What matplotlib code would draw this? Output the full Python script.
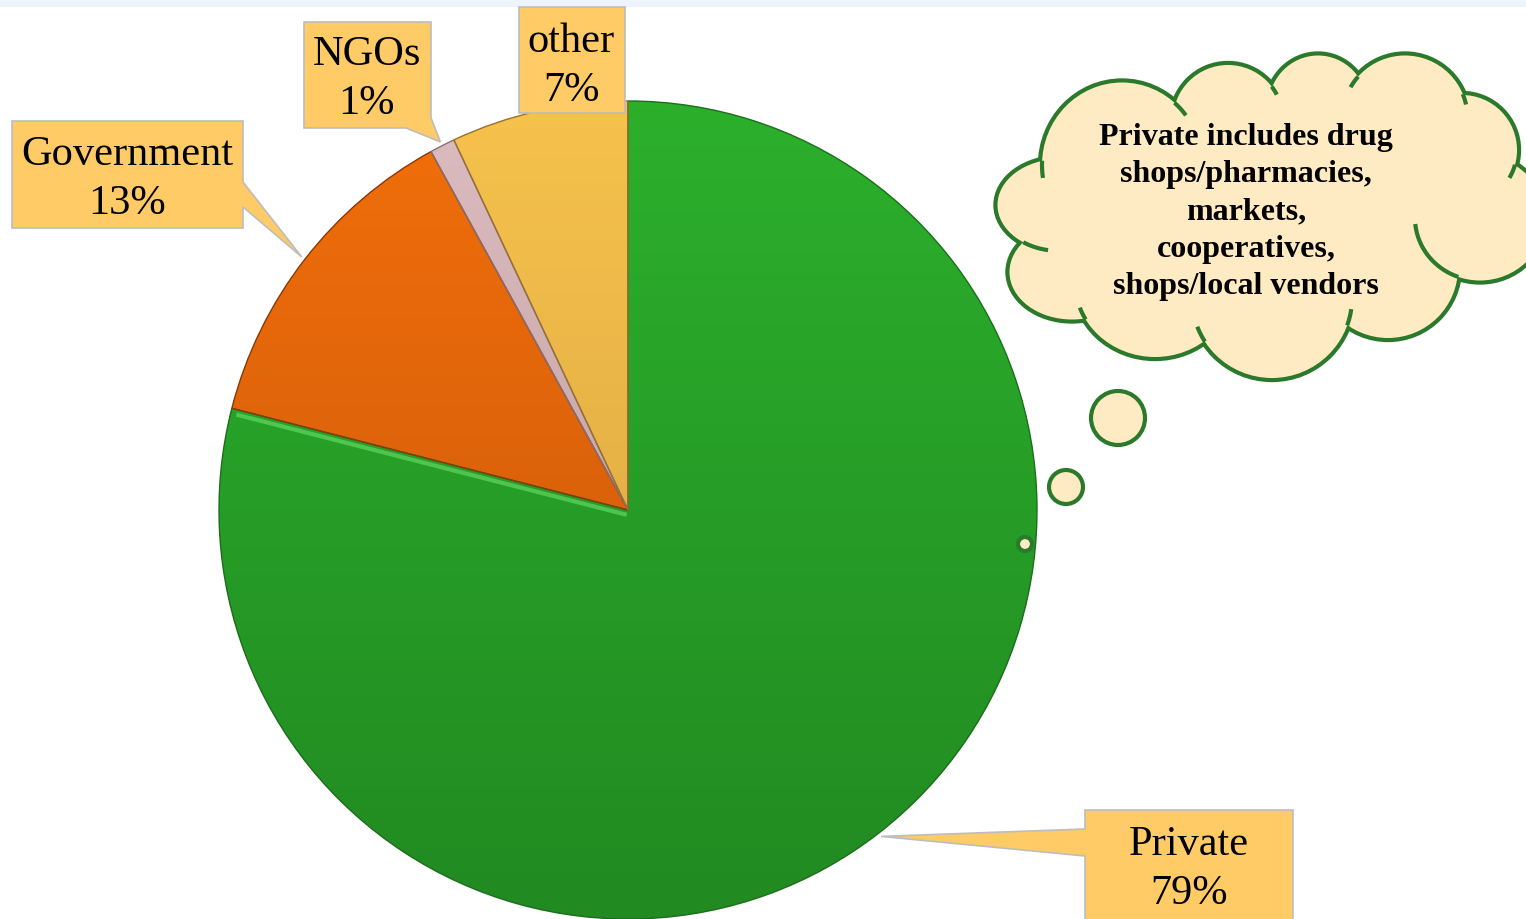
import numpy as np
import matplotlib
matplotlib.use("Agg")
import matplotlib.pyplot as plt
from matplotlib.patches import Polygon, Ellipse, Circle, Rectangle, PathPatch
from matplotlib.colors import LinearSegmentedColormap

plt.rcParams['font.family'] = ['Liberation Serif', 'DejaVu Serif']

# data
labels = ['Private', 'Government', 'NGOs', 'other']
shares = [79, 13, 1, 7]
note = ("Private includes drug\nshops/pharmacies,\nmarkets,\n"
        "cooperatives,\nshops/local vendors")

# colours (top, bottom of the gradient)
top_cols = ['#2cb02c', '#f26f0b', '#dcbcc0', '#f6c24c']
bot_cols = ['#218a21', '#c4540a', '#b89598', '#d59f40']
edge_cols = ['#1d6e1d', '#8a3a08', '#8a7075', '#9a7030']

W, H = 1526, 919


def P(x, y):
    # pixel position (from top-left) -> data coords
    return (x, H - y)


fig = plt.figure(figsize=(W / 100, H / 100), dpi=100)
ax = fig.add_axes([0, 0, 1, 1])

# light band along the top
ax.add_patch(Rectangle(P(0, 7), W, 7, color='#eef4fc', lw=0, zorder=0))

cx, cy = P(628, 510)
R = 409

wedges, _ = ax.pie(shares, colors=top_cols, startangle=90, counterclock=False,
                   center=(cx, cy), radius=R,
                   wedgeprops=dict(linewidth=0, zorder=2))

# vertical gradient inside each slice
grad = np.linspace(0, 1, 256).reshape(-1, 1)
for w, c0, c1 in zip(wedges, top_cols, bot_cols):
    cm = LinearSegmentedColormap.from_list('g', [c0, c1])
    im = ax.imshow(grad, cmap=cm, extent=[cx - R, cx + R, cy - R, cy + R],
                   aspect='auto', zorder=2.5, interpolation='bilinear')
    im.set_clip_path(w)

# light bevel along the green slice's cut edge
a = np.deg2rad(wedges[0].theta1)
nx, ny = -np.sin(a), np.cos(a)
off = 5
ax.plot([cx + off * nx, cx + (R - 6) * np.cos(a) + off * nx],
        [cy + off * ny, cy + (R - 6) * np.sin(a) + off * ny],
        color='#6be06b', lw=3, alpha=0.6, zorder=2.55, solid_capstyle='butt')

for w, ec in zip(wedges, edge_cols):
    ax.add_patch(PathPatch(w.get_path(), fill=False, ec=ec, lw=1.0,
                           zorder=2.6))

ax.set_xlim(0, W)
ax.set_ylim(0, H)
ax.set_aspect('equal')
ax.axis('off')


def tip_of(w, frac=1.0):
    ang = np.deg2rad((w.theta1 + w.theta2) / 2)
    return (w.center[0] + frac * R * np.cos(ang),
            w.center[1] + frac * R * np.sin(ang))


box_fc = '#fecb66'
box_ec = '#bdbdbd'
fs = 30.5
ls = 1.36

# Government callout
t = tip_of(wedges[1], 1.01)
pts = [P(12, 121), P(243, 121), P(243, 182), t, P(243, 207), P(243, 228),
       P(12, 228)]
ax.add_patch(Polygon(pts, closed=True, fc=box_fc, ec=box_ec, lw=1.2, zorder=4))
ax.text(*P(127, 179), f"{labels[1]}\n{shares[1]}%", ha='center', va='center',
        fontsize=fs, linespacing=ls, zorder=5)

# NGOs callout
t = tip_of(wedges[2], 1.01)
pts = [P(304, 22), P(431, 22), P(431, 118), t, P(406, 128), P(304, 128)]
ax.add_patch(Polygon(pts, closed=True, fc=box_fc, ec=box_ec, lw=1.2, zorder=4))
ax.text(*P(367, 79), f"{labels[2]}\n{shares[2]}%", ha='center', va='center',
        fontsize=fs, linespacing=ls, zorder=5)

# other callout
pts = [P(519, 7), P(625, 7), P(625, 113), P(519, 113)]
ax.add_patch(Polygon(pts, closed=True, fc=box_fc, ec=box_ec, lw=1.2, zorder=4))
ax.text(*P(571, 66), f"{labels[3]}\n{shares[3]}%", ha='center', va='center',
        fontsize=fs, linespacing=ls, zorder=5)

# Private callout
t = tip_of(wedges[0], 1.01)
pts = [P(1085, 810), P(1293, 810), P(1293, 940), P(1085, 940), P(1085, 856),
       t, P(1085, 829)]
ax.add_patch(Polygon(pts, closed=True, fc=box_fc, ec=box_ec, lw=1.2, zorder=4))
ax.text(*P(1189, 869), f"{labels[0]}\n{shares[0]}%", ha='center', va='center',
        fontsize=fs, linespacing=ls, zorder=5)

# thought cloud
cloud_fc = '#ffebc3'
cloud_ec = '#2b7a2b'
lw = 3.0
bumps = [(1060, 205, 125, 92), (1122, 165, 160, 165), (1228, 120, 110, 110),
         (1318, 108, 100, 105), (1405, 118, 125, 125), (1462, 150, 110, 110),
         (1480, 218, 130, 125), (1388, 268, 140, 140), (1272, 298, 160, 160),
         (1155, 282, 160, 150), (1072, 272, 125, 95)]
core = (1250, 215, 380, 220)
for bx, by, bw, bh in bumps:
    ax.add_patch(Ellipse(P(bx, by), bw, bh, fc=cloud_fc, ec=cloud_ec,
                         lw=2 * lw, zorder=6))
for bx, by, bw, bh in bumps + [core]:
    ax.add_patch(Ellipse(P(bx, by), bw, bh, fc=cloud_fc, ec='none', lw=0,
                         zorder=7))

# little inner arcs where the bumps meet (degrees past each visible end)
ext = {0: (25, 0), 1: (12, 12), 2: (0, 10), 4: (12, 10), 5: (0, 15),
       6: (0, 65), 8: (12, 12), 9: (0, 10)}
tt = np.linspace(0, 2 * np.pi, 720, endpoint=False)


def inside(x, y, e):
    ex, ey, ew, eh = e
    return ((x - ex) / (ew / 2)) ** 2 + ((y - ey) / (eh / 2)) ** 2 < 1


for i, (k0, k1) in ext.items():
    bx, by, bw, bh = bumps[i]
    xs = bx + bw / 2 * np.cos(tt)
    ys = by + bh / 2 * np.sin(tt)
    hidden = np.zeros(len(tt), bool)
    for j, e in enumerate(bumps + [core]):
        if j != i:
            hidden |= inside(xs, ys, e)
    shift = int(np.argmax(hidden))
    vis = np.roll(~hidden, -shift)
    idx = np.where(vis)[0]
    s, e_ = idx[0] + shift, idx[-1] + shift
    for lo, hi in [(s - 2 * k0, s + 1), (e_ - 1, e_ + 2 * k1)]:
        if hi - lo < 4:
            continue
        sel = np.arange(lo, hi) % len(tt)
        ax.plot(xs[sel], H - ys[sel], color=cloud_ec, lw=lw, zorder=7.5,
                solid_capstyle='butt')

ax.text(*P(1246, 212), note, ha='center', va='center', fontsize=23,
        fontweight='bold', linespacing=1.38, zorder=8)

for bx, by, r in [(1118, 418, 27), (1066, 487, 17), (1025, 544, 7)]:
    ax.add_patch(Circle(P(bx, by), r, fc=cloud_fc, ec=cloud_ec, lw=lw,
                        zorder=6))

fig.savefig('out.png', dpi=100)
